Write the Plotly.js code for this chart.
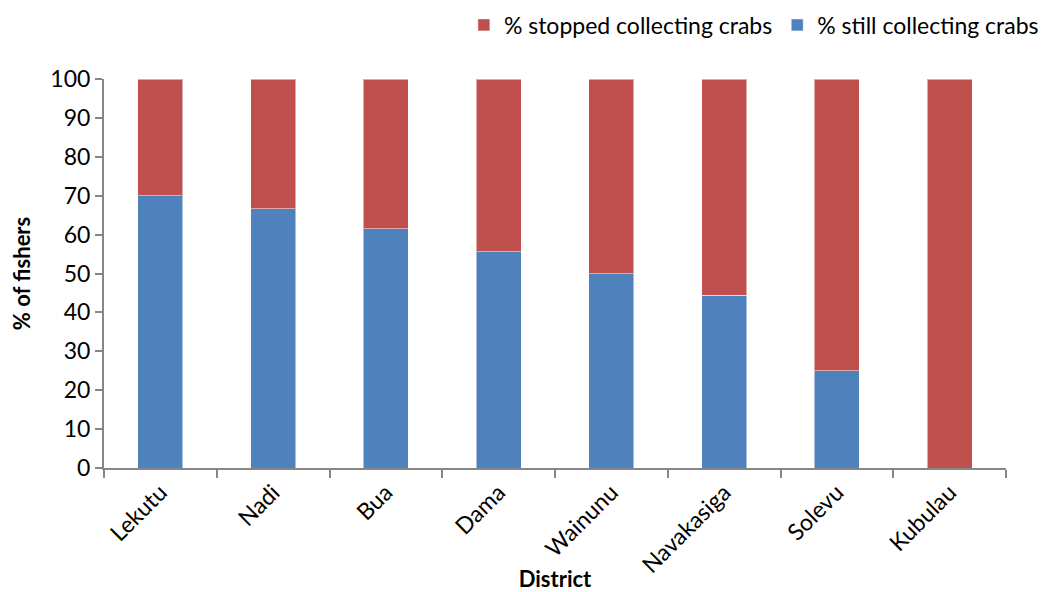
<!DOCTYPE html>
<html>
<head>
<meta charset="utf-8">
<script src="https://cdn.plot.ly/plotly-3.0.1.min.js"></script>
<style>html,body{margin:0;padding:0;background:#fff;}#chart{width:1042px;height:592px;}</style>
</head>
<body>
<div id="chart"></div>
<script>
const districts = ["Lekutu", "Nadi", "Bua", "Dama", "Wainunu", "Navakasiga", "Solevu", "Kubulau"];
const stillCollecting = [70, 66.7, 61.5, 55.6, 50, 44.4, 25, 0];
const stoppedCollecting = [30, 33.3, 38.5, 44.4, 50, 55.6, 75, 100];
const yTicks = [0, 10, 20, 30, 40, 50, 60, 70, 80, 90, 100];

const font = "Lato, 'Open Sans', sans-serif";

const data = [
  {
    type: "bar", name: "% still collecting crabs", x: districts, y: stillCollecting,
    marker: {color: "#4F81BD", line: {color: "rgba(255,255,255,0.5)", width: 1}},
    hoverinfo: "x+y"
  },
  {
    type: "bar", name: "% stopped collecting crabs", x: districts, y: stoppedCollecting,
    marker: {color: "#C0504D", line: {color: "rgba(255,255,255,0.5)", width: 1}},
    hoverinfo: "x+y"
  }
];

const layout = {
  width: 1042, height: 592,
  margin: {l: 104, r: 36, t: 79, b: 124, autoexpand: false},
  paper_bgcolor: "#fff", plot_bgcolor: "#fff",
  barmode: "stack", bargap: 0.6,
  font: {family: font, size: 23, color: "#000"},
  showlegend: true,
  legend: {
    orientation: "h",
    x: 1.042, xanchor: "right", y: 1.139, yanchor: "middle",
    traceorder: "reversed", font: {family: font, size: 23, color: "#000"},
    entrywidth: 0, itemwidth: 30
  },
  xaxis: {
    type: "category", tickangle: -45, showline: true, linecolor: "#868686", linewidth: 2,
    ticks: "outside", tickson: "boundaries", ticklen: 8, tickcolor: "#868686", tickwidth: 2,
    showgrid: false, zeroline: false, tickfont: {family: font, size: 23},
    automargin: false,
    title: {text: "<b>District</b>", font: {family: font, size: 22}, standoff: 12}
  },
  yaxis: {
    range: [0, 100], tickvals: yTicks, showline: true, linecolor: "#868686", linewidth: 2,
    ticks: "outside", ticklen: 7, tickcolor: "#868686", tickwidth: 2,
    showgrid: false, zeroline: false, tickfont: {family: font, size: 23},
    automargin: false,
    title: {text: "<b>% of fishers</b>", font: {family: font, size: 22}, standoff: 14}
  }
};

Plotly.newPlot("chart", data, layout, {displayModeBar: false, staticPlot: true});
</script>
</body>
</html>
